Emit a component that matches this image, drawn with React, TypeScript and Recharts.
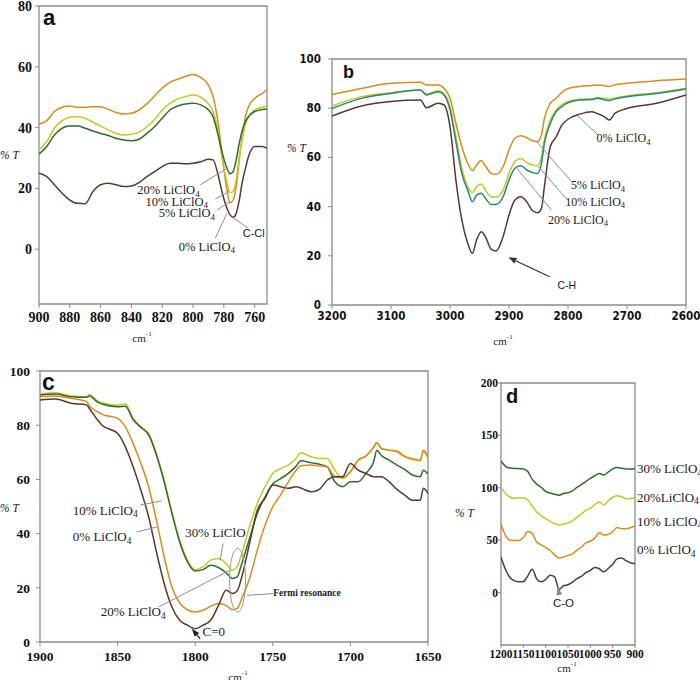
import React from "react";
import {
  LineChart,
  Line,
  XAxis,
  YAxis,
  ReferenceLine,
  ReferenceDot,
  ReferenceArea,
} from "recharts";

// ---- panel a : C-Cl region ----
const aWave = [900, 895, 890, 885, 880, 875, 870, 865, 860, 855, 850, 845, 840, 835, 830, 825, 820, 815, 810, 805, 800, 795, 790, 787, 784, 781, 778, 776, 774, 772, 770, 768, 766, 764, 760, 755, 752];
const a5 = [41.2, 42.3, 45.3, 46.7, 47.1, 46.7, 46.7, 46.9, 46.9, 46, 45, 44.5, 44.7, 45.8, 47.8, 50.4, 53, 54.9, 55.9, 56.8, 57.5, 56.5, 54, 50.2, 42.5, 30.5, 19.5, 15.3, 16.2, 20.6, 29.4, 37, 43.6, 46.9, 49.6, 51.3, 52.4];
const a10 = [32.7, 35.4, 39.8, 42.3, 43.4, 43.6, 43.1, 41.8, 40.5, 39.2, 38.1, 37.6, 37.8, 38.5, 40.3, 42.7, 45.8, 48, 49.4, 50.2, 50.7, 50, 47.8, 45.3, 39.2, 29.4, 22.2, 18.6, 19, 22.8, 30.5, 36.5, 40.9, 43.6, 45.8, 46.7, 47.1];
const a20 = [31.3, 33.8, 37.6, 39.8, 40.5, 40.5, 39.8, 38.9, 38.1, 37.4, 36.5, 35.9, 35.7, 36.2, 38.1, 40.3, 43.1, 45.8, 47.1, 47.8, 48, 47.5, 45.8, 43.6, 38.1, 31.6, 26.6, 24.8, 25.5, 29.4, 34.8, 39.2, 42, 43.6, 45.3, 46, 46.1];
const a0 = [25, 23.9, 21.2, 18.4, 16.2, 15.1, 15, 19, 21.2, 21.7, 21.2, 20.6, 20.8, 21.9, 23.9, 25.5, 27.2, 28.3, 28.3, 28.1, 28.3, 28.8, 29.6, 29.4, 25, 18.4, 13.5, 11.3, 10.5, 11.8, 16.2, 22.2, 26.6, 30.5, 33.8, 33.8, 33.2];
const aXTicks = [900, 880, 860, 840, 820, 800, 780, 760];
const aYTicks = [0, 20, 40, 60, 80];

// ---- panel b : C-H region ----
const bWave = [3200, 3150, 3100, 3050, 3040, 3020, 3010, 3000, 2990, 2980, 2970, 2962, 2955, 2947, 2940, 2930, 2922, 2910, 2900, 2890, 2880, 2870, 2860, 2852, 2845, 2840, 2830, 2820, 2810, 2800, 2780, 2760, 2750, 2740, 2730, 2720, 2700, 2650, 2600];
const b5 = [85.6, 88, 90.1, 90.5, 89.4, 89.4, 88, 84, 73.8, 64.4, 57.6, 54.6, 56.9, 58.7, 56.5, 53.5, 53.1, 56.2, 63, 67.8, 68.8, 68, 66.8, 66.4, 69.1, 75.9, 82, 84, 86.5, 88, 88.8, 89.2, 89.4, 89.2, 88.8, 89.5, 90.1, 91.2, 91.9];
const b10 = [80.9, 84.7, 86.3, 87.4, 85.8, 87.1, 86, 80.6, 68.4, 55.6, 48.1, 45.7, 48.1, 49.2, 46.7, 44, 43.8, 46.7, 53.5, 58.3, 59.6, 57.9, 56.9, 56.5, 60.3, 67.1, 75.2, 79.3, 81.5, 82.7, 83.6, 83.8, 84.4, 84, 83.7, 84.2, 85, 86.3, 88.1];
const b20 = [79.9, 84, 86, 87.4, 85.4, 86.7, 85.4, 79.3, 66.4, 53.5, 46.7, 42, 44.7, 45.4, 43.4, 40.9, 40.9, 44, 50.8, 55.6, 56.6, 54.9, 53.8, 53.5, 57.6, 65.7, 73.8, 78.6, 80.8, 82.2, 83.3, 83.5, 84, 83.5, 83.1, 83.8, 84.7, 86, 87.8];
const b0 = [76.8, 80.9, 82.7, 83.3, 80.2, 82, 81.3, 72.5, 50.8, 34.6, 25.1, 21, 26.4, 29.8, 27.8, 22.6, 22, 27.8, 36.6, 42.7, 44, 42, 38.3, 37.5, 39.3, 48.1, 64.4, 68.4, 73.2, 75.5, 77.6, 78.6, 77.8, 76.8, 75.2, 78, 79.9, 82, 85.4];
const bXTicks = [3200, 3100, 3000, 2900, 2800, 2700, 2600];
const bYTicks = [0, 20, 40, 60, 80, 100];

// ---- panel c : C=O region ----
const cWave = [1900, 1890, 1880, 1870, 1868, 1863, 1860, 1850, 1845, 1840, 1835, 1830, 1825, 1820, 1815, 1810, 1805, 1800, 1795, 1790, 1785, 1780, 1776, 1773, 1770, 1765, 1760, 1755, 1750, 1745, 1740, 1735, 1732, 1725, 1720, 1715, 1710, 1705, 1700, 1695, 1690, 1685, 1683, 1680, 1675, 1670, 1665, 1660, 1655, 1653, 1650];
const c30 = [91.5, 92, 90.8, 90.5, 91.3, 89, 88.3, 87.4, 87.8, 82.5, 79.4, 77, 69.6, 59.7, 48, 37.6, 30.2, 26.7, 27.7, 30.2, 30.8, 28.9, 26.5, 27.7, 32.6, 42.5, 51.1, 57.3, 62.2, 64, 65.3, 67.7, 69.8, 68.3, 67.7, 67.7, 63.4, 60.3, 62.8, 67.1, 68.6, 72, 73.5, 71.4, 70.8, 70.6, 68.6, 67.7, 67.1, 70.2, 67.7];
const c20 = [91.1, 91.5, 90.5, 90.3, 90.8, 88.5, 87.8, 86.8, 87, 82.1, 79.2, 76.4, 69, 59.1, 47.4, 36.9, 29.6, 26.2, 26.7, 28.3, 27.5, 25.5, 23.4, 24, 28.9, 38.2, 47.4, 53.6, 58.3, 60.3, 62.2, 64.9, 66.9, 66.1, 65.6, 64.7, 59.1, 57.3, 59.1, 59.1, 62.2, 66.5, 70.8, 68.8, 67.1, 65.3, 63.7, 61.6, 61, 63.4, 61.9];
const c10 = [90.5, 90.8, 89.9, 88.7, 87, 85, 84, 82.5, 79.4, 73.3, 65.9, 57.3, 45, 31.4, 20.3, 14.4, 11.9, 11.1, 11.7, 13.2, 14.2, 13.5, 11.9, 12.3, 16, 23.4, 33.9, 43.1, 49.9, 54.2, 59.1, 63.4, 65, 65.3, 64.9, 64.7, 61, 60.7, 62.8, 67.1, 68.6, 71.8, 73.5, 71.4, 70.8, 70.2, 68.3, 67.4, 66.9, 70.8, 68.3];
const c0 = [89.3, 89.7, 88.1, 87.5, 86, 82, 80, 77, 72, 64.7, 56, 46.2, 33.3, 21.6, 12.9, 8, 6.2, 4.9, 6.2, 8, 13.5, 19.1, 17.9, 18.8, 24, 36.3, 48.6, 53, 57.9, 57.3, 56.7, 57.3, 56.8, 55.4, 56.3, 59.7, 61, 61, 65.9, 63.4, 62.2, 61, 61, 61, 59.1, 56.3, 54.2, 52.3, 52.3, 56.7, 54.8];
const cXTicks = [1900, 1850, 1800, 1750, 1700, 1650];
const cYTicks = [0, 20, 40, 60, 80, 100];

// ---- panel d : C-O region ----
const dWave = [1200, 1190, 1180, 1170, 1160, 1150, 1140, 1130, 1120, 1110, 1100, 1090, 1080, 1070, 1060, 1050, 1040, 1030, 1020, 1010, 1000, 990, 980, 970, 960, 950, 940, 930, 920, 910, 900];
const d30 = [125.6, 120.5, 118.8, 118.4, 118.4, 118, 115.5, 108, 103.5, 100.5, 96.5, 95, 93.8, 93, 94.6, 95.3, 97, 100.3, 103, 106, 108.9, 111.5, 113.6, 112.2, 115, 118, 119.3, 118.6, 118, 117.9, 118.4];
const d20 = [100.3, 94.5, 91, 89.9, 90.5, 90.2, 88.3, 82.5, 77, 73.5, 70.5, 68, 66, 64.6, 65.5, 66.5, 68.5, 71.8, 75, 78.5, 80.4, 84, 86.5, 83.6, 87.5, 91, 92.4, 91.5, 89.6, 89.8, 90.8];
const d10 = [65.5, 54.5, 49.9, 49.7, 49.7, 52.6, 58.2, 56.5, 48.2, 45.5, 43, 40.2, 36, 33, 34, 35.5, 36.8, 40.5, 43.5, 47.5, 49, 52, 57, 55, 55.5, 58, 62.1, 61, 61, 62, 63.9];
const d0 = [33.9, 22, 14.5, 11.5, 10.3, 10.5, 16, 22.3, 13, 10.3, 12.5, 16.5, 15, 3, 6.5, 7.5, 10, 13.3, 15.5, 19, 21.2, 24, 22.8, 19.8, 23, 27, 32.2, 32.9, 30.5, 28.5, 27.5];
const dXTicks = [1200, 1150, 1100, 1050, 1000, 950, 900];
const dYTicks = [0, 50, 100, 150, 200];
const dLegend = ["30% LiClO", "20%LiClO", "10% LiClO", "0% LiClO"];
const dLegendAt = [119, 92, 69, 42];

const C = {
  orange: "#d98b1f",
  yellow: "#c2c72b",
  green: "#2f6d2d",
  teal: "#2a8579",
  brown: "#583932",
};
const serif = '"Liberation Serif", "Times New Roman", serif';
const sans = '"Liberation Sans", Arial, sans-serif';

const zip = (xs: number[], cols: Record<string, number[]>) =>
  xs.map((x, i) => {
    const row: any = { x };
    Object.keys(cols).forEach((k) => (row[k] = cols[k][i]));
    return row;
  });

const aRows = zip(aWave, { p5: a5, p10: a10, p20: a20, p0: a0 });
const bRows = zip(bWave, { p5: b5, p10: b10, p20: b20, p0: b0 });
const cRows = zip(cWave, { p30: c30, p20: c20, p10: c10, p0: c0 });
const dRows = zip(dWave, { p30: d30, p20: d20, p10: d10, p0: d0 });

// annotation text drawn at a data point
const chemText = (main: string, sub: string, size: number, font = serif, weight = 400) =>
  (p: any) => (
    <text
      x={p.cx}
      y={p.cy}
      textAnchor="middle"
      dominantBaseline="central"
      fontFamily={font}
      fontSize={size}
      fontWeight={weight}
      fill="#1a1a1a"
    >
      {main}
      {sub ? (
        <tspan dy={size * 0.3} fontSize={size * 0.72}>
          {sub}
        </tspan>
      ) : null}
    </text>
  );

const leader = (color: string, arrow: boolean) => (p: any) => {
  const { x1, y1, x2, y2 } = p;
  if (!arrow)
    return <line x1={x1} y1={y1} x2={x2} y2={y2} stroke={color} strokeWidth={1} />;
  const ang = Math.atan2(y2 - y1, x2 - x1);
  const L = 8;
  const W = 3;
  const bx = x2 - L * Math.cos(ang);
  const by = y2 - L * Math.sin(ang);
  const pts = `${x2},${y2} ${bx - W * Math.sin(ang)},${by + W * Math.cos(ang)} ${bx + W * Math.sin(ang)},${by - W * Math.cos(ang)}`;
  return (
    <g>
      <line x1={x1} y1={y1} x2={bx} y2={by} stroke={color} strokeWidth={1.2} />
      <polygon points={pts} fill={color} />
    </g>
  );
};

type Note = { main: string; sub: string; at: [number, number]; from?: [number, number]; to?: [number, number]; size: number; font?: string; weight?: number; arrow?: boolean; color?: string };

const aNotes: Note[] = [
  { main: "20% LiClO", sub: "4", at: [816, 19.5], from: [795.4, 21.2], to: [778, 26.6], size: 12.5 },
  { main: "10% LiClO", sub: "4", at: [810.6, 15.7], from: [785.6, 16.5], to: [776.7, 19], size: 12.5 },
  { main: "5% LiClO", sub: "4", at: [804, 11.8], from: [784.5, 12.9], to: [775.8, 15.7], size: 12.5 },
  { main: "0% LiClO", sub: "4", at: [791, 0.9], from: [785.6, 3.6], to: [778, 11.8], size: 12.5 },
  { main: "C-Cl", sub: "", at: [760.6, 5.3], from: [764, 6.9], to: [773.7, 10.2], size: 11, font: sans },
];
const bNotes: Note[] = [
  { main: "0% LiClO", sub: "4", at: [2706, 67.8], from: [2749, 69.1], to: [2783, 76.8], size: 12 },
  { main: "5% LiClO", sub: "4", at: [2749, 48.8], from: [2794, 50.1], to: [2853, 66.4], size: 12 },
  { main: "10% LiClO", sub: "4", at: [2754, 42], from: [2802, 43], to: [2850, 56.2], size: 12 },
  { main: "20% LiClO", sub: "4", at: [2783, 34.6], from: [2828, 38.6], to: [2887, 55.6], size: 12 },
  { main: "C-H", sub: "", at: [2802, 8.1], from: [2831, 11.5], to: [2901, 19.4], size: 10.5, font: sans, arrow: true, color: "#333" },
];
const cNotes: Note[] = [
  { main: "10% LiClO", sub: "4", at: [1858, 48.6], from: [1835.5, 50.5], to: [1821.5, 52.1], size: 13 },
  { main: "0% LiClO", sub: "4", at: [1860, 38.8], from: [1837.7, 40.6], to: [1824.3, 42.5], size: 13 },
  { main: "30% LiClO", sub: "", at: [1787, 40.3], from: [1782, 36.3], to: [1784, 30.2], size: 13 },
  { main: "20% LiClO", sub: "4", at: [1840, 11.1], from: [1823.7, 12.9], to: [1777.5, 26.5], size: 13 },
  { main: "C=0", sub: "", at: [1788, 3.7], from: [1796.8, 1.2], to: [1802.2, 4.9], size: 13, arrow: true, color: "#222" },
  { main: "Fermi resonance", sub: "", at: [1728, 18.1], from: [1749.5, 17.9], to: [1766.7, 17.2], size: 9.5, weight: 700 },
];
const dNotes: Note[] = [
  { main: "C-O", sub: "", at: [1060, -10.4], from: [1069, -2.5], to: [1073.4, 5.4], size: 11.5, font: sans, arrow: true, color: "#888" },
];

const renderNotes = (notes: Note[], tag: string) =>
  notes.flatMap((n, i) => {
    const out: any[] = [
      <ReferenceDot
        key={`${tag}t${i}`}
        x={n.at[0]}
        y={n.at[1]}
        r={1}
        ifOverflow="visible"
        shape={chemText(n.main, n.sub, n.size, n.font, n.weight)}
      />,
    ];
    if (n.from && n.to)
      out.push(
        <ReferenceLine
          key={`${tag}l${i}`}
          segment={[
            { x: n.from[0], y: n.from[1] },
            { x: n.to[0], y: n.to[1] },
          ]}
          ifOverflow="visible"
          shape={leader(n.color || "#8f8f8f", !!n.arrow)}
        />
      );
    return out;
  });

type Box = { left: number; top: number; width: number; height: number };
type Plot = { left: number; top: number; right: number; bottom: number };

function Panel(props: {
  box: Box;
  plot: Plot;
  rows: any[];
  xDomain: [number, number];
  xTicks: number[];
  yDomain: [number, number];
  yTicks: number[];
  series: { key: string; color: string }[];
  font: string;
  fontSize: number;
  xMargin: number;
  yMargin: number;
  tickSize: number;
  children?: any;
}) {
  const { box, plot } = props;
  const tick = { fontFamily: props.font, fontSize: props.fontSize, fontWeight: 700, fill: "#111" };
  return (
    <div style={{ position: "absolute", left: box.left, top: box.top }}>
      <LineChart
        width={box.width}
        height={box.height}
        data={props.rows}
        margin={{ top: plot.top - box.top, right: box.left + box.width - plot.right, left: 0, bottom: 0 }}
      >
        <XAxis
          type="number"
          dataKey="x"
          domain={props.xDomain}
          reversed
          allowDataOverflow
          ticks={props.xTicks}
          interval={0}
          height={box.top + box.height - plot.bottom}
          axisLine={false}
          tickSize={props.tickSize}
          tickMargin={props.xMargin}
          tickLine={{ stroke: "#8c8c8c" }}
          tick={tick}
        />
        <YAxis
          type="number"
          domain={props.yDomain}
          allowDataOverflow
          ticks={props.yTicks}
          interval={0}
          width={plot.left - box.left}
          axisLine={false}
          tickSize={props.tickSize}
          tickMargin={props.yMargin}
          tickLine={{ stroke: "#8c8c8c" }}
          tick={tick}
        />
        <ReferenceArea
          x1={props.xDomain[0]}
          x2={props.xDomain[1]}
          y1={props.yDomain[0]}
          y2={props.yDomain[1]}
          fill="none"
          stroke="#8c8c8c"
          strokeWidth={1.3}
          ifOverflow="visible"
        />
        {props.series.map((s) => (
          <Line
            key={s.key}
            dataKey={s.key}
            type="monotone"
            stroke={s.color}
            strokeWidth={1.5}
            dot={false}
            isAnimationActive={false}
          />
        ))}
        {props.children}
      </LineChart>
    </div>
  );
}

const Wn = ({ x, y }: { x: number; y: number }) => (
  <text x={x} y={y} textAnchor="middle" dominantBaseline="central" fontFamily={serif} fontSize={11} fill="#222">
    cm
    <tspan dy={-4} fontSize={7}>
      -1
    </tspan>
  </text>
);

const PctT = ({ x, y }: { x: number; y: number }) => (
  <text x={x} y={y} dominantBaseline="central" fontFamily={serif} fontSize={11.5} fontStyle="italic" fill="#222">
    % T
  </text>
);

export default function App() {
  return (
    <div style={{ position: "absolute", left: 0, top: 0, width: 700, height: 680, background: "#fff", overflow: "hidden" }}>
      <Panel
        box={{ left: 0, top: 0, width: 280, height: 330 }}
        plot={{ left: 39, top: 6, right: 267, bottom: 304 }}
        rows={aRows}
        xDomain={[752, 900]}
        xTicks={aXTicks}
        yDomain={[-18, 80]}
        yTicks={aYTicks}
        series={[
          { key: "p5", color: C.orange },
          { key: "p10", color: C.yellow },
          { key: "p20", color: C.green },
          { key: "p0", color: C.brown },
        ]}
        font={serif}
        fontSize={14}
        xMargin={4}
        yMargin={3}
        tickSize={4}
      >
        {renderNotes(aNotes, "a")}
      </Panel>
      <Panel
        box={{ left: 270, top: 40, width: 430, height: 290 }}
        plot={{ left: 332, top: 59, right: 686, bottom: 305 }}
        rows={bRows}
        xDomain={[2600, 3200]}
        xTicks={bXTicks}
        yDomain={[0, 100]}
        yTicks={bYTicks}
        series={[
          { key: "p5", color: C.orange },
          { key: "p10", color: C.yellow },
          { key: "p20", color: C.teal },
          { key: "p0", color: C.brown },
        ]}
        font={'"Liberation Sans Narrow", "DejaVu Sans Condensed", sans-serif'}
        fontSize={11.5}
        xMargin={3}
        yMargin={7}
        tickSize={4}
      >
        {renderNotes(bNotes, "b")}
      </Panel>
      <Panel
        box={{ left: 0, top: 340, width: 460, height: 330 }}
        plot={{ left: 40, top: 371, right: 428, bottom: 642 }}
        rows={cRows}
        xDomain={[1650, 1900]}
        xTicks={cXTicks}
        yDomain={[0, 100]}
        yTicks={cYTicks}
        series={[
          { key: "p30", color: C.yellow },
          { key: "p20", color: C.green },
          { key: "p10", color: C.orange },
          { key: "p0", color: C.brown },
        ]}
        font={serif}
        fontSize={13.5}
        xMargin={5}
        yMargin={6}
        tickSize={4}
      >
        {renderNotes(cNotes, "c")}
        <ReferenceDot
          x={1772.7}
          y={22.8}
          r={1}
          ifOverflow="visible"
          shape={(p: any) => (
            <ellipse cx={p.cx} cy={p.cy} rx={8} ry={32} fill="none" stroke="#9a9a9a" strokeWidth={1} />
          )}
        />
      </Panel>
      <Panel
        box={{ left: 440, top: 360, width: 260, height: 310 }}
        plot={{ left: 501, top: 383, right: 635, bottom: 645 }}
        rows={dRows}
        xDomain={[900, 1200]}
        xTicks={dXTicks}
        yDomain={[-50, 200]}
        yTicks={dYTicks}
        series={[
          { key: "p30", color: C.green },
          { key: "p20", color: C.yellow },
          { key: "p10", color: C.orange },
          { key: "p0", color: C.brown },
        ]}
        font={serif}
        fontSize={11.5}
        xMargin={2}
        yMargin={0}
        tickSize={3}
      >
        {renderNotes(dNotes, "d")}
      </Panel>

      <svg width={700} height={680} style={{ position: "absolute", left: 0, top: 0, pointerEvents: "none" }}>
        <text x={43} y={25} fontFamily={sans} fontWeight={700} fontSize={22} fill="#111">a</text>
        <text x={343} y={78} fontFamily={sans} fontWeight={700} fontSize={18} fill="#111">b</text>
        <text x={42} y={390} fontFamily={sans} fontWeight={700} fontSize={23} fill="#111">c</text>
        <text x={506} y={403} fontFamily={sans} fontWeight={700} fontSize={20} fill="#111">d</text>
        <PctT x={0} y={155} />
        <PctT x={287} y={148} />
        <PctT x={0} y={508} />
        <PctT x={455} y={513} />
        <Wn x={142} y={338} />
        <Wn x={503} y={341} />
        <Wn x={238} y={677} />
        <Wn x={567} y={668} />
        {dLegend.map((t, i) => (
          <text
            key={t}
            x={637}
            y={594 - dLegendAt[i] * 1.0533}
            dominantBaseline="central"
            fontFamily={serif}
            fontSize={13}
            fill="#1a1a1a"
          >
            {t}
            <tspan dy={4} fontSize={9.5}>4</tspan>
          </text>
        ))}
      </svg>
    </div>
  );
}
